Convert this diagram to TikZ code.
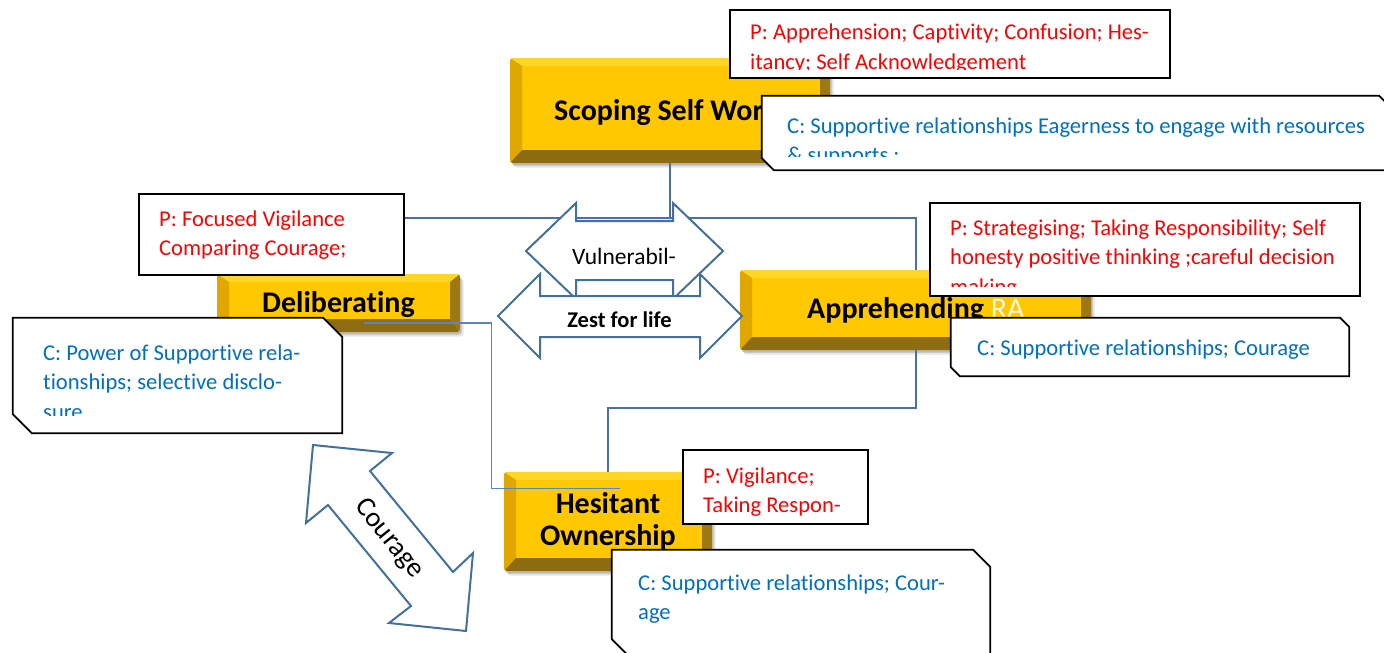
\documentclass[tikz,border=0pt]{standalone}
\usepackage{fontspec}
\setmainfont{Carlito}[Ligatures={NoCommon}]
\usetikzlibrary{calc}

\definecolor{yface}{HTML}{FFC800}
\definecolor{ytop}{HTML}{FFD526}
\definecolor{yleft}{HTML}{DFA700}
\definecolor{yright}{HTML}{9E7811}
\definecolor{ybot}{HTML}{8E6C12}
\definecolor{pred}{HTML}{FF0000}
\definecolor{cblue}{HTML}{0070C0}
\definecolor{arrowblue}{HTML}{41719C}
\definecolor{connblue}{HTML}{4A6FAC}
\definecolor{thinblue}{HTML}{5B84C4}
\definecolor{rawhite}{HTML}{FFF6DC}

\tikzset{
  ybox/.style={rectangle, rounded corners=3pt, fill=yface, inner sep=0pt,
    preaction={fill=black, opacity=0.10, transform canvas={xshift=3.5pt, yshift=-4.5pt}},
    preaction={fill=black, opacity=0.18, transform canvas={xshift=1.5pt, yshift=-2.5pt}},
    path picture={
      \coordinate (bNW) at (path picture bounding box.north west);
      \coordinate (bNE) at (path picture bounding box.north east);
      \coordinate (bSW) at (path picture bounding box.south west);
      \coordinate (bSE) at (path picture bounding box.south east);
      \fill[ytop, sharp corners] (bNW) -- (bNE) -- ($(bNE)+(-10pt,-8pt)$) -- ($(bNW)+(12pt,-8pt)$) -- cycle;
      \fill[yleft, sharp corners] (bNW) -- ($(bNW)+(12pt,-8pt)$) -- ($(bSW)+(12pt,13pt)$) -- (bSW) -- cycle;
      \fill[yright, sharp corners] (bNE) -- (bSE) -- ($(bSE)+(-10pt,13pt)$) -- ($(bNE)+(-10pt,-8pt)$) -- cycle;
      \fill[ybot, sharp corners] (bSW) -- (bSE) -- ($(bSE)+(-10pt,13pt)$) -- ($(bSW)+(12pt,13pt)$) -- cycle;
    }},
  title/.style={inner sep=0pt, font=\bfseries\fontsize{30}{32.5}\selectfont},
  conn/.style={draw=connblue, line width=2pt},
  thinconn/.style={draw=thinblue, line width=1.1pt},
  arrowline/.style={draw=arrowblue, fill=white, line width=2pt, line join=miter},
  arrowtext/.style={inner sep=0pt, font=\fontsize{23.5}{26}\selectfont},
  pbox/.style={draw=black, fill=white, line width=1.8pt, inner sep=0pt},
  cnode/.style={inner sep=0pt},
  cline/.style={draw=black, fill=white, line width=1.8pt},
  ptext/.style={anchor=base west, inner sep=0pt, text=pred, font=\fontsize{22.6}{29.5}\selectfont},
  ctext/.style={anchor=base west, inner sep=0pt, text=cblue, font=\fontsize{22.6}{29.5}\selectfont},
}

% outline of a callout with cut top-right and bottom-left corners
\newcommand\chamferbox[2]{%
  \path[cline] (#1.north west) -- ($(#1.north east)+(-#2,0)$) -- ($(#1.north east)+(0,#2)$)
    -- (#1.south east) -- ($(#1.south west)+(#2,0)$) -- ($(#1.south west)+(0,-#2)$) -- cycle;}

\begin{document}
\begin{tikzpicture}[x=1pt,y=-1pt]
\useasboundingbox (0,0) rectangle (1384,653);
\clip (0,0) rectangle (1384,653);
\fill[white] (0,0) rectangle (1384,653);

% stage boxes
\node[ybox, minimum width=320pt, minimum height=105pt] (scope) at (670,110.5) {};
\node[ybox, minimum width=243pt, minimum height=58pt] (delib) at (338.5,303) {};
\node[ybox, minimum width=351pt, minimum height=80pt] (appr) at (915.5,310) {};
\node[ybox, minimum width=208pt, minimum height=99pt] (hes) at (608,521.5) {};

\node[title, anchor=base west] (scopeT) at (554,120) {Scoping Self Work};
\node[title, anchor=base west] (delibT) at (262,312) {Deliberating};
\node[title, anchor=base west] (apprT) at (807,318) {Apprehending {\mdseries\color{rawhite}RA}};
\node[title, anchor=base] (hesT) at (608,513) {\parbox[t]{200pt}{\centering Hesitant\\Ownership}};

% connectors
\draw[conn] (scope.south) -- ($(scope.south)+(0,55)$) coordinate (fork) -| (delib.north);
\draw[conn] (fork) -| (appr.north);
\draw[conn] (appr.south) -- ($(appr.south)+(0,58)$) -| (hes.north);
\draw[thinconn] ($(delib.center)+(25,20)$) -- ++(128,0) |- ($(hes.center)+(12,-33)$);

% double arrows
\draw[arrowline] (526,251) -- (576,203) -- (576,221) -- (673,221) -- (673,203) -- (723,251)
  -- (673,299) -- (673,280) -- (576,280) -- (576,299) -- cycle;
\node[arrowtext, anchor=base] (vulT) at (624,264) {Vulnerabil-};

\draw[arrowline] (498,316) -- (540,274) -- (540,296) -- (700,296) -- (700,274) -- (742,316)
  -- (700,358) -- (700,337) -- (540,337) -- (540,358) -- cycle;
\node[arrowtext, font=\bfseries\fontsize{22.5}{26}\selectfont, anchor=base] (zestT) at (619.5,327) {Zest for life};

\draw[arrowline] (313,445) -- (392,453) -- (370,471) -- (453,572) -- (473,553) -- (466,631)
  -- (389,623) -- (411,606) -- (328,505) -- (306,523) -- cycle;
\node[arrowtext, font=\fontsize{28}{30}\selectfont, rotate=-51] (courT) at (389,539) {Courage};

% Scoping Self Work callouts
\node[pbox, minimum width=440pt, minimum height=68pt] (ptop) at (950,44) {};
\begin{scope}
  \clip (730,10) rectangle (1170,69);
  \node[ptext] (ptopT) at (750,39.5) {\parbox[t]{430pt}{P: Apprehension; Captivity; Confusion; Hes-\\itancy; Self Acknowledgement}};
\end{scope}
\node[cnode, minimum width=629pt, minimum height=74pt] (ctop) at (1076.5,133) {};
\chamferbox{ctop}{12}
\begin{scope}
  \clip (762,96) rectangle (1391,156);
  \node[ctext] (ctopT) at (787,133) {\parbox[t]{620pt}{C: Supportive relationships Eagerness to engage with resources\\\& supports ;}};
\end{scope}

% Deliberating callouts
\node[pbox, minimum width=265pt, minimum height=81pt] (pleft) at (271.5,234.5) {};
\node[ptext] (pleftT) at (159,226) {\parbox[t]{240pt}{P: Focused Vigilance\\Comparing Courage;}};
\node[cnode, minimum width=329pt, minimum height=115pt] (cleft) at (177.5,375.5) {};
\chamferbox{cleft}{19}
\begin{scope}
  \clip (13,318) rectangle (342,415);
  \node[ctext] (cleftT) at (43,360) {\parbox[t]{300pt}{C: Power of Supportive rela-\\tionships; selective disclo-\\sure}};
\end{scope}

% Apprehending callouts
\node[pbox, minimum width=430pt, minimum height=93pt] (pright) at (1145,249.5) {};
\begin{scope}
  \clip (930,203) rectangle (1360,286);
  \node[ptext] (prightT) at (950,235) {\parbox[t]{420pt}{P: Strategising; Taking Responsibility; Self\\honesty positive thinking ;careful decision\\making}};
\end{scope}
\node[cnode, minimum width=398pt, minimum height=58pt] (cright) at (1150,347) {};
\chamferbox{cright}{9}
\node[ctext] (crightT) at (977,355) {C: Supportive relationships; Courage};

% Hesitant Ownership callouts
\node[pbox, minimum width=185pt, minimum height=74pt] (pbot) at (775.5,487) {};
\node[ptext] (pbotT) at (703,483) {\parbox[t]{170pt}{P: Vigilance;\\Taking Respon-}};
\node[cnode, minimum width=378pt, minimum height=106pt] (cbot) at (801,603) {};
\chamferbox{cbot}{17}
\node[ctext] (cbotT) at (638,590) {\parbox[t]{360pt}{C: Supportive relationships; Cour-\\age}};
\end{tikzpicture}
\end{document}
